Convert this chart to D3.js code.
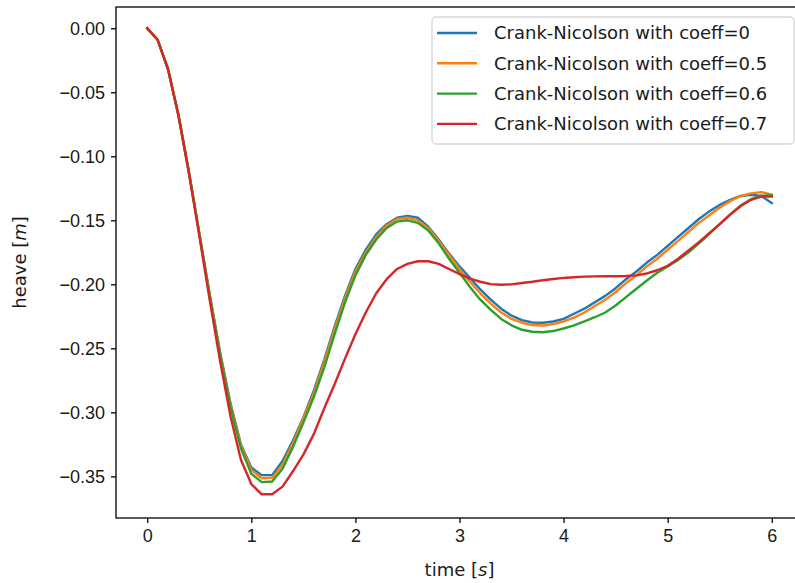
<!DOCTYPE html>
<html>
<head>
<meta charset="utf-8">
<script src="https://cdn.jsdelivr.net/npm/d3@7"></script>
<style>
  body { margin: 0; background: #fff; }
  svg { display: block; font-family: 'DejaVu Sans', sans-serif; }
</style>
</head>
<body>
<svg id="chart"></svg>
<script>
// time samples, every 0.1 s
const time = d3.range(61).map(i => +(i / 10).toFixed(1))

const coeff0 = [
  0, -0.009, -0.032, -0.068, -0.112, -0.160, -0.208, -0.253, -0.293, -0.325,
  -0.343, -0.349, -0.349, -0.338, -0.322, -0.304, -0.283, -0.259, -0.233, -0.209,
  -0.188, -0.173, -0.161, -0.153, -0.148, -0.1465, -0.148, -0.155, -0.165, -0.176,
  -0.186, -0.195, -0.204, -0.212, -0.219, -0.2245, -0.228, -0.2298, -0.230, -0.229,
  -0.227, -0.223, -0.219, -0.214, -0.209, -0.203, -0.196, -0.190, -0.183, -0.177,
  -0.170, -0.163, -0.156, -0.149, -0.143, -0.138, -0.134, -0.131, -0.130, -0.131,
  -0.1365
]
const coeff05 = [
  0, -0.009, -0.032, -0.068, -0.112, -0.160, -0.208, -0.254, -0.294, -0.326,
  -0.345, -0.3515, -0.351, -0.341, -0.324, -0.305, -0.285, -0.261, -0.235, -0.211,
  -0.190, -0.175, -0.163, -0.154, -0.149, -0.148, -0.150, -0.156, -0.166, -0.177,
  -0.188, -0.198, -0.207, -0.215, -0.222, -0.227, -0.230, -0.2318, -0.2322, -0.231,
  -0.229, -0.226, -0.222, -0.217, -0.212, -0.206, -0.199, -0.193, -0.186, -0.180,
  -0.173, -0.166, -0.159, -0.152, -0.146, -0.140, -0.135, -0.131, -0.129, -0.128,
  -0.130
]
const coeff06 = [
  0, -0.009, -0.032, -0.068, -0.112, -0.160, -0.209, -0.255, -0.296, -0.328,
  -0.348, -0.3545, -0.354, -0.344, -0.327, -0.308, -0.288, -0.265, -0.239, -0.214,
  -0.193, -0.177, -0.165, -0.156, -0.151, -0.150, -0.152, -0.158, -0.168, -0.180,
  -0.191, -0.202, -0.212, -0.220, -0.227, -0.232, -0.2355, -0.237, -0.2374, -0.2365,
  -0.2345, -0.232, -0.229, -0.2257, -0.222, -0.2165, -0.210, -0.2035, -0.197, -0.191,
  -0.186, -0.181, -0.175, -0.168, -0.1605, -0.153, -0.1455, -0.1385, -0.1335, -0.1308,
  -0.1305
]
const coeff07 = [
  0, -0.009, -0.032, -0.068, -0.113, -0.162, -0.212, -0.260, -0.303, -0.337,
  -0.356, -0.364, -0.364, -0.358, -0.346, -0.333, -0.317, -0.297, -0.278, -0.258,
  -0.239, -0.222, -0.207, -0.196, -0.188, -0.184, -0.182, -0.182, -0.184, -0.188,
  -0.192, -0.1955, -0.198, -0.1998, -0.2003, -0.200, -0.199, -0.198, -0.1968, -0.1958,
  -0.195, -0.1945, -0.194, -0.1938, -0.1937, -0.1937, -0.1935, -0.193, -0.1915, -0.189,
  -0.1855, -0.180, -0.1735, -0.167, -0.160, -0.153, -0.1455, -0.139, -0.134, -0.1315,
  -0.1315
]

const seriesNames = [
  'Crank-Nicolson with coeff=0',
  'Crank-Nicolson with coeff=0.5',
  'Crank-Nicolson with coeff=0.6',
  'Crank-Nicolson with coeff=0.7'
]
const seriesValues = [coeff0, coeff05, coeff06, coeff07]
const colors = ['#1f77b4', '#ff7f0e', '#2ca02c', '#d62728']

const xTicks = [0, 1, 2, 3, 4, 5, 6]
const yTicks = [0, -0.05, -0.1, -0.15, -0.2, -0.25, -0.3, -0.35]

const W = 795
const H = 583
// the plot is cut off on the right, so the axes run past the svg edge
const margin = { top: 7, right: -8, bottom: 65, left: 116 }
const width = W - margin.left - margin.right
const height = H - margin.top - margin.bottom

const svg = d3.select('#chart').attr('width', W).attr('height', H)

const x = d3.scaleLinear().domain([-0.3, 6.3]).range([0, width])
const y = d3.scaleLinear().domain([-0.3825, 0.0166]).range([height, 0])

const g = svg
  .append('g')
  .attr('transform', `translate(${margin.left},${margin.top})`)

// lines
const line = d3
  .line()
  .x((d, i) => x(time[i]))
  .y(d => y(d))

seriesValues.forEach((vals, k) => {
  g.append('path')
    .datum(vals)
    .attr('fill', 'none')
    .attr('stroke', colors[k])
    .attr('stroke-width', 2.4)
    .attr('stroke-linejoin', 'round')
    .attr('stroke-linecap', 'square')
    .attr('d', line)
})

// x axis
g.append('g')
  .attr('transform', `translate(0,${height})`)
  .call(
    d3
      .axisBottom(x)
      .tickValues(xTicks)
      .tickSize(5)
      .tickPadding(6)
      .tickFormat(d3.format('d'))
  )
  .call(a => a.select('.domain').remove())
  .call(a => a.selectAll('line').attr('stroke', '#000').attr('stroke-width', 1.3))
  .selectAll('text')
  .attr('fill', '#1a1a1a')
  .style('font-size', '18px')

// y axis
g.append('g')
  .call(
    d3
      .axisLeft(y)
      .tickValues(yTicks)
      .tickSize(5)
      .tickPadding(6)
      .tickFormat(d => d3.format('.2f')(d).replace('-', '\u2212'))
  )
  .call(a => a.select('.domain').remove())
  .call(a => a.selectAll('line').attr('stroke', '#000').attr('stroke-width', 1.3))
  .selectAll('text')
  .attr('fill', '#1a1a1a')
  .style('font-size', '18px')

// frame
g.append('rect')
  .attr('width', width)
  .attr('height', height)
  .attr('fill', 'none')
  .attr('stroke', '#000')
  .attr('stroke-width', 1.3)

// axis labels
const xl = svg
  .append('text')
  .attr('x', margin.left + width / 2)
  .attr('y', 576)
  .attr('text-anchor', 'middle')
  .attr('fill', '#1a1a1a')
  .style('font-size', '18px')
xl.append('tspan').text('time [')
xl.append('tspan').style('font-style', 'italic').text('s')
xl.append('tspan').text(']')

const yl = svg
  .append('text')
  .attr('transform', `translate(26,${margin.top + height / 2}) rotate(-90)`)
  .attr('text-anchor', 'middle')
  .attr('fill', '#1a1a1a')
  .style('font-size', '18px')
yl.append('tspan').text('heave [')
yl.append('tspan').style('font-style', 'italic').text('m')
yl.append('tspan').text(']')

// legend
const legend = svg.append('g').attr('transform', 'translate(432,17)')
legend
  .append('rect')
  .attr('width', 362)
  .attr('height', 127)
  .attr('rx', 4)
  .attr('fill', '#fff')
  .attr('fill-opacity', 0.8)
  .attr('stroke', '#d6d6d6')
  .attr('stroke-width', 1.3)

seriesNames.forEach((name, k) => {
  const row = legend.append('g').attr('transform', `translate(0,${16 + k * 30.3})`)
  row
    .append('line')
    .attr('x1', 5)
    .attr('x2', 45)
    .attr('stroke', colors[k])
    .attr('stroke-width', 2.4)
  row
    .append('text')
    .attr('x', 62)
    .attr('dy', '0.35em')
    .attr('fill', '#1a1a1a')
    .style('font-size', '18px')
    .text(name)
})
</script>
</body>
</html>
